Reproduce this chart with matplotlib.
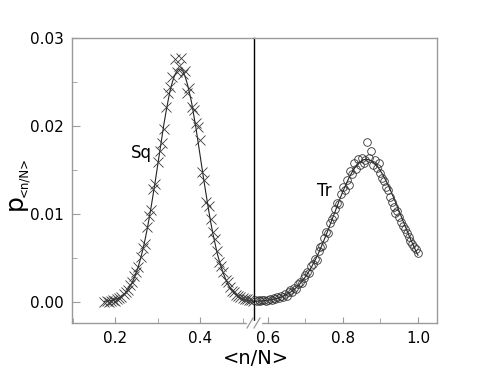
import matplotlib
matplotlib.use('Agg')
import matplotlib.pyplot as plt
from matplotlib.ticker import MultipleLocator, FormatStrFormatter

# Sq (square lattice) histogram
sq_x = [0.175, 0.180, 0.185, 0.190, 0.195, 0.200, 0.205, 0.210, 0.215, 0.220,
        0.225, 0.230, 0.235, 0.240, 0.245, 0.250, 0.255, 0.260, 0.265, 0.270,
        0.275, 0.280, 0.285, 0.290, 0.295, 0.300, 0.305, 0.310, 0.315, 0.320,
        0.325, 0.330, 0.335, 0.340, 0.345, 0.350, 0.355, 0.360, 0.365, 0.370,
        0.375, 0.380, 0.385, 0.390, 0.395, 0.400, 0.405, 0.410, 0.415, 0.420,
        0.425, 0.430, 0.435, 0.440, 0.445, 0.450, 0.455, 0.460, 0.465, 0.470,
        0.475, 0.480, 0.485, 0.490, 0.495, 0.500, 0.505, 0.510, 0.515, 0.520,
        0.525]
sq_y = [0.0000, 0.0001, 0.0000, 0.0001, 0.0002, 0.0001, 0.0003, 0.0004, 0.0005, 0.0009,
        0.0011, 0.0013, 0.0019, 0.0022, 0.0029, 0.0034, 0.0039, 0.0051, 0.0061, 0.0066,
        0.0085, 0.0098, 0.0104, 0.0128, 0.0134, 0.0159, 0.0172, 0.0181, 0.0196, 0.0221,
        0.0238, 0.0244, 0.0256, 0.0276, 0.0261, 0.0268, 0.0277, 0.0259, 0.0262, 0.0237,
        0.0243, 0.0221, 0.0218, 0.0203, 0.0199, 0.0184, 0.0148, 0.0139, 0.0114, 0.0109,
        0.0094, 0.0079, 0.0071, 0.0058, 0.0045, 0.0041, 0.0034, 0.0025, 0.0022, 0.0017,
        0.0012, 0.0011, 0.0008, 0.0006, 0.0005, 0.0004, 0.0003, 0.0003, 0.0002, 0.0002,
        0.0001]
# fitted curve through Sq
sq_fit = [0.00005, 0.00007, 0.0001, 0.00014, 0.00019, 0.00026, 0.00035, 0.00047, 0.00062, 0.00081,
          0.00105, 0.00135, 0.00171, 0.00216, 0.00268, 0.00331, 0.00404, 0.00488, 0.00583, 0.00691,
          0.0081, 0.0094, 0.0108, 0.0123, 0.0138, 0.0154, 0.0170, 0.0186, 0.0202, 0.0216,
          0.0229, 0.0241, 0.0250, 0.0257, 0.0262, 0.0265, 0.0264, 0.0262, 0.0256, 0.0248,
          0.0238, 0.0227, 0.0213, 0.0199, 0.0183, 0.0167, 0.0151, 0.0135, 0.0120, 0.0105,
          0.0091, 0.0078, 0.0067, 0.0056, 0.0047, 0.0039, 0.0032, 0.0026, 0.0021, 0.0016,
          0.0013, 0.0010, 0.00077, 0.00059, 0.00044, 0.00033, 0.00025, 0.00018, 0.00013, 0.0001,
          0.00007]

# Tr (triangular lattice) histogram
tr_x = [0.565, 0.570, 0.575, 0.580, 0.585, 0.590, 0.595, 0.600, 0.605, 0.610,
        0.615, 0.620, 0.625, 0.630, 0.635, 0.640, 0.645, 0.650, 0.655, 0.660,
        0.665, 0.670, 0.675, 0.680, 0.685, 0.690, 0.695, 0.700, 0.705, 0.710,
        0.715, 0.720, 0.725, 0.730, 0.735, 0.740, 0.745, 0.750, 0.755, 0.760,
        0.765, 0.770, 0.775, 0.780, 0.785, 0.790, 0.795, 0.800, 0.805, 0.810,
        0.815, 0.820, 0.825, 0.830, 0.835, 0.840, 0.845, 0.850, 0.855, 0.860,
        0.865, 0.870, 0.875, 0.880, 0.885, 0.890, 0.895, 0.900, 0.905, 0.910,
        0.915, 0.920, 0.925, 0.930, 0.935, 0.940, 0.945, 0.950, 0.955, 0.960,
        0.965, 0.970, 0.975, 0.980, 0.985, 0.990, 0.995, 1.000]
tr_y = [0.0002, 0.0001, 0.0002, 0.0001, 0.0002, 0.0002, 0.0001, 0.0002, 0.0003, 0.0002,
        0.0004, 0.0003, 0.0005, 0.0004, 0.0007, 0.0005, 0.0009, 0.0007, 0.0011, 0.0013,
        0.0011, 0.0016, 0.0014, 0.0020, 0.0022, 0.0021, 0.0027, 0.0030, 0.0034, 0.0033,
        0.0041, 0.0043, 0.0049, 0.0047, 0.0058, 0.0062, 0.0063, 0.0072, 0.0079, 0.0078,
        0.0089, 0.0094, 0.0097, 0.0105, 0.0112, 0.0111, 0.0122, 0.0130, 0.0127, 0.0139,
        0.0133, 0.0149, 0.0145, 0.0158, 0.0151, 0.0162, 0.0155, 0.0164, 0.0158, 0.0161,
        0.0182, 0.0163, 0.0172, 0.0155, 0.0161, 0.0152, 0.0158, 0.0146, 0.0141, 0.0137,
        0.0131, 0.0127, 0.0119, 0.0114, 0.0108, 0.0101, 0.0103, 0.0096, 0.0091, 0.0086,
        0.0083, 0.0078, 0.0074, 0.0069, 0.0066, 0.0062, 0.0060, 0.0055]
tr_fit = [0.000047, 0.000057, 0.000069, 0.000084, 0.0001, 0.00012, 0.00014, 0.00017, 0.0002, 0.00024,
          0.00029, 0.00034, 0.00039, 0.00046, 0.00053, 0.00062, 0.00072, 0.00083, 0.00095, 0.00109,
          0.00124, 0.00141, 0.0016, 0.0018, 0.00203, 0.00228, 0.00255, 0.00285, 0.00316, 0.00351,
          0.00387, 0.00426, 0.00467, 0.00511, 0.00556, 0.00604, 0.00655, 0.00706, 0.00759, 0.00813,
          0.00869, 0.00925, 0.00982, 0.01037, 0.01094, 0.0115, 0.01204, 0.01257, 0.01307, 0.01354,
          0.0140, 0.01441, 0.0148, 0.01514, 0.01544, 0.01569, 0.01589, 0.01604, 0.01615, 0.0162,
          0.01619, 0.01614, 0.01604, 0.0159, 0.0157, 0.01547, 0.0152, 0.01488, 0.01453, 0.01414,
          0.01373, 0.0133, 0.01283, 0.01234, 0.01184, 0.01133, 0.0108, 0.01028, 0.00974, 0.0092,
          0.00868, 0.00816, 0.00765, 0.00714, 0.00665, 0.00618, 0.00573, 0.00529]

W, H = 485, 381
fig = plt.figure(figsize=(W / 100, H / 100), dpi=100)
gray = '#9a9a9a'

# pixel boxes of the two halves of the broken axis
x0, xm, x1 = 72, 254, 437
ytop, ybot = 38, 323
axL = fig.add_axes([x0 / W, 1 - ybot / H, (xm - x0) / W, (ybot - ytop) / H])
axR = fig.add_axes([xm / W, 1 - ybot / H, (x1 - xm) / W, (ybot - ytop) / H])

axL.plot(sq_x, sq_fit, color='#222222', lw=0.8, zorder=2)
axL.plot(sq_x, sq_y, ls='none', marker='x', ms=6.5, mew=0.6, color='#3a3a3a', zorder=3)
axR.plot(tr_x, tr_fit, color='#222222', lw=0.8, zorder=2)
axR.plot(tr_x, tr_y, ls='none', marker='o', ms=5.5, mew=0.6, mfc='none', mec='#333333', zorder=3)

axL.set_xlim(0.0988, 0.527)
axR.set_xlim(0.5627, 1.0507)
for ax in (axL, axR):
    ax.set_ylim(-0.00242, 0.03)
    for s in ax.spines.values():
        s.set_color(gray)
        s.set_linewidth(1.0)
    ax.tick_params(which='both', direction='in', color=gray, labelsize=11, pad=6)
    ax.xaxis.set_major_formatter(FormatStrFormatter('%.1f'))
    ax.tick_params(axis='x', which='major', length=4)
    ax.tick_params(axis='x', which='minor', length=3.5)

axL.xaxis.set_major_locator(MultipleLocator(0.2))
axL.xaxis.set_minor_locator(MultipleLocator(0.1))
axR.xaxis.set_major_locator(MultipleLocator(0.2))
axR.xaxis.set_minor_locator(MultipleLocator(0.1))
axL.yaxis.set_major_locator(MultipleLocator(0.01))
axL.yaxis.set_minor_locator(MultipleLocator(0.005))
axL.yaxis.set_major_formatter(FormatStrFormatter('%.2f'))
axL.tick_params(axis='y', which='major', length=6)
axL.tick_params(axis='y', which='minor', length=3.5)
axL.spines['right'].set_visible(False)
axR.spines['left'].set_color('black')
axR.tick_params(axis='y', which='both', left=False, labelleft=False)

axL.text(0.287, 0.0169, 'Sq', fontsize=12, ha='right', va='center')
axR.text(0.771, 0.0126, 'Tr', fontsize=12, ha='right', va='center')

# break marks on the bottom axis
fig.patches.append(plt.Rectangle(((xm - 7) / W, 1 - (ybot + 2) / H), 14 / W, 4 / H,
                                 transform=fig.transFigure, color='white', zorder=5))
for dx in (-4, 3):
    fig.add_artist(plt.Line2D([(xm + dx - 3) / W, (xm + dx + 3) / W],
                              [1 - (ybot + 5) / H, 1 - (ybot - 5) / H],
                              transform=fig.transFigure, color=gray, lw=0.9, zorder=6))

fig.text(256 / W, 1 - 358 / H, '<n/N>', fontsize=14, ha='center', va='center')
# y label: big "p" with a small subscript, drawn as two rotated texts
fig.text(15 / W, 1 - 202 / H, 'p', fontsize=18, rotation=90, ha='center', va='center')
fig.text(24 / W, 1 - 177 / H, '<n/N>', fontsize=8.5, rotation=90, ha='center', va='center')

fig.savefig('out.png', dpi=100)
